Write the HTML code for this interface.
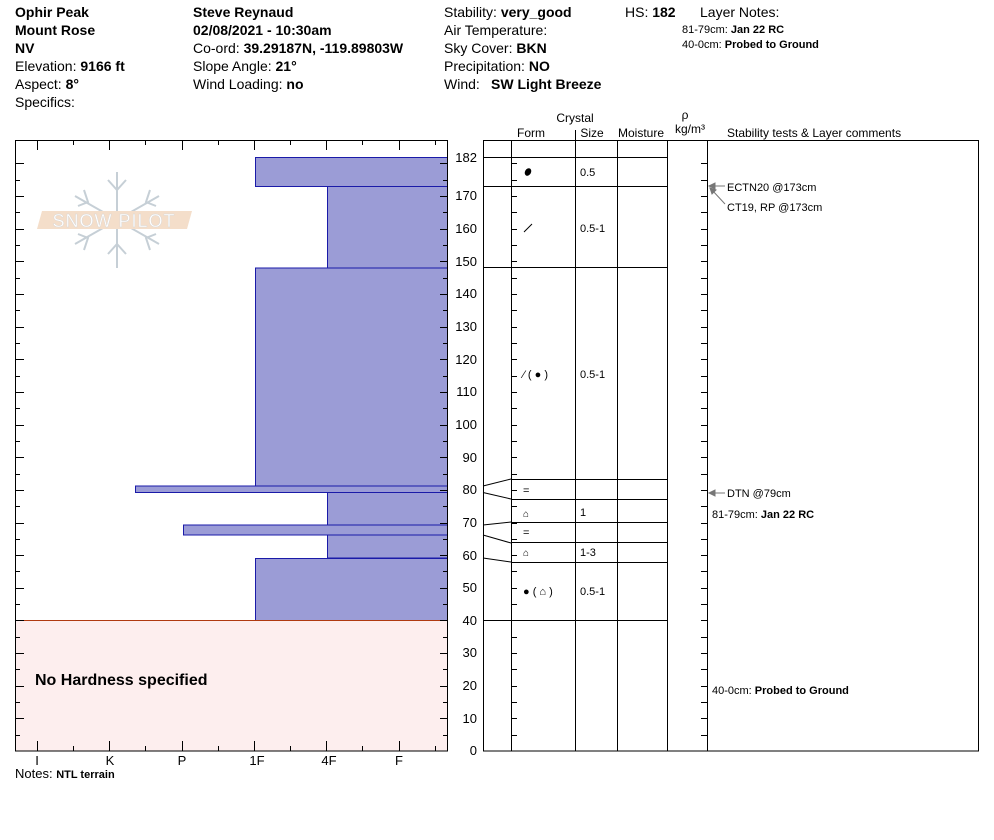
<!DOCTYPE html>
<html><head><meta charset="utf-8"><style>
body{margin:0;background:#fff;}
svg{display:block;font-family:"Liberation Sans",Arial,sans-serif;}
.b{font-weight:bold}
</style></head><body>
<svg id="s" width="994" height="840" viewBox="0 0 994 840" xmlns="http://www.w3.org/2000/svg">
<g font-size="14" fill="#000">
<text x="15" y="17" class="b">Ophir Peak</text>
<text x="15" y="35" class="b">Mount Rose</text>
<text x="15" y="53" class="b">NV</text>
<text x="15" y="71">Elevation: <tspan class="b">9166 ft</tspan></text>
<text x="15" y="89">Aspect: <tspan class="b">8°</tspan></text>
<text x="15" y="107">Specifics:</text>
<text x="193" y="17" class="b">Steve Reynaud</text>
<text x="193" y="35" class="b">02/08/2021 - 10:30am</text>
<text x="193" y="53">Co-ord: <tspan class="b">39.29187N, -119.89803W</tspan></text>
<text x="193" y="71">Slope Angle: <tspan class="b">21°</tspan></text>
<text x="193" y="89">Wind Loading: <tspan class="b">no</tspan></text>
<text x="444" y="17">Stability: <tspan class="b">very_good</tspan></text>
<text x="444" y="35">Air Temperature:</text>
<text x="444" y="53">Sky Cover: <tspan class="b">BKN</tspan></text>
<text x="444" y="71">Precipitation: <tspan class="b">NO</tspan></text>
<text x="444" y="89">Wind:<tspan x="491" class="b">SW  Light Breeze</tspan></text>
<text x="625" y="17">HS: <tspan class="b">182</tspan></text>
<text x="700" y="17">Layer Notes:</text>
</g>
<g font-size="11">
<text x="682" y="33">81-79cm:  <tspan class="b">Jan 22 RC</tspan></text>
<text x="682" y="48">40-0cm:  <tspan class="b">Probed to Ground</tspan></text>
</g>
<g opacity="0.8">
<g stroke="#b8c4cc" stroke-width="2" fill="none">
<line x1="117" y1="172" x2="117" y2="268"/>
<line x1="75" y1="196" x2="159" y2="244"/>
<line x1="75" y1="244" x2="159" y2="196"/>
<polyline points="108,180 117,190 126,180"/><polyline points="108,254 117,244 126,254"/>
<polyline points="84,190 88,202 78,206"/><polyline points="150,190 146,202 156,206"/>
<polyline points="84,250 88,238 78,234"/><polyline points="150,250 146,238 156,234"/>
</g>
<polygon points="42,211 192,211 187,229 37,229" fill="#f2d6bd"/>
<text x="114" y="227" font-size="18" fill="#fff" stroke="#ccc" stroke-width="0.4" text-anchor="middle" letter-spacing="1">SNOW PILOT</text>
</g>
<g fill="#9b9cd6" stroke="#1a1aa8" stroke-width="1">
<rect x="255.5" y="157.5" width="192" height="29"/>
<rect x="327.5" y="186.5" width="120" height="81.5"/>
<rect x="255.5" y="268" width="192" height="218"/>
<rect x="135.5" y="486" width="312" height="6.5"/>
<rect x="327.5" y="492.5" width="120" height="32.5"/>
<rect x="183.5" y="525" width="264" height="10"/>
<rect x="327.5" y="535" width="120" height="23"/>
<rect x="255.5" y="558.5" width="192" height="62"/>
</g>
<rect x="15.5" y="620.5" width="432" height="130.5" fill="#fdeeee"/>
<line x1="15" y1="620.5" x2="447" y2="620.5" stroke="#b03a10"/>
<line x1="15.5" y1="620" x2="15.5" y2="751" stroke="#b03a10"/>
<text x="35" y="685" font-size="16" class="b">No Hardness specified</text>
<rect x="15.5" y="140.5" width="432" height="610.5" fill="none" stroke="#000"/>
<g id="lt" stroke="#000"></g>
<g font-size="13" text-anchor="middle">
<text x="37" y="765">I</text><text x="110" y="765">K</text><text x="182" y="765">P</text><text x="257" y="765">1F</text><text x="329" y="765">4F</text><text x="399" y="765">F</text>
</g>
<text x="15" y="778" font-size="13">Notes: <tspan font-size="11" class="b">NTL terrain</tspan></text>
<g font-size="13" text-anchor="end">
<text x="477" y="162">182</text><text x="477" y="200">170</text><text x="477" y="233">160</text><text x="477" y="266">150</text><text x="477" y="298">140</text><text x="477" y="331">130</text><text x="477" y="364">120</text><text x="477" y="396">110</text><text x="477" y="429">100</text><text x="477" y="462">90</text><text x="477" y="494">80</text><text x="477" y="527">70</text><text x="477" y="560">60</text><text x="477" y="592">50</text><text x="477" y="625">40</text><text x="477" y="657">30</text><text x="477" y="690">20</text><text x="477" y="723">10</text><text x="477" y="755">0</text>
</g>
<g font-size="12" text-anchor="middle">
<text x="575" y="122">Crystal</text>
<text x="531" y="137">Form</text><text x="592" y="137">Size</text><text x="641" y="137">Moisture</text>
<text x="685" y="119">ρ</text><text x="690" y="133">kg/m³</text>
</g>
<text x="727" y="137" font-size="12">Stability tests &amp; Layer comments</text>
<g stroke="#000" fill="none">
<line x1="575.5" y1="130" x2="575.5" y2="140"/>
<rect x="483.5" y="140.5" width="495" height="610.5"/>
<line x1="511.5" y1="140" x2="511.5" y2="751"/>
<line x1="575.5" y1="140" x2="575.5" y2="751"/>
<line x1="617.5" y1="140" x2="617.5" y2="751"/>
<line x1="667.5" y1="140" x2="667.5" y2="751"/>
<line x1="707.5" y1="140" x2="707.5" y2="751"/>
<line x1="483" y1="157.5" x2="667" y2="157.5"/>
<line x1="483" y1="186.5" x2="667" y2="186.5"/>
<line x1="483" y1="267.5" x2="667" y2="267.5"/>
<line x1="511" y1="479.5" x2="667" y2="479.5"/>
<line x1="511" y1="499.5" x2="667" y2="499.5"/>
<line x1="511" y1="522.5" x2="667" y2="522.5"/>
<line x1="511" y1="542.5" x2="667" y2="542.5"/>
<line x1="511" y1="562.5" x2="667" y2="562.5"/>
<line x1="483" y1="620.5" x2="667" y2="620.5"/>
<polyline points="483,486 511,479"/><polyline points="483,492.5 511,499"/>
<polyline points="483,525 511,522"/><polyline points="483,535 511,543"/>
<polyline points="483,558 511,562"/>
</g>
<g id="rt" stroke="#000"></g>
<g font-size="11">
<text x="580" y="176">0.5</text><text x="580" y="232">0.5-1</text><text x="580" y="378">0.5-1</text>
<text x="580" y="516">1</text><text x="580" y="556">1-3</text><text x="580" y="595">0.5-1</text>
<text x="523" y="494">=</text><text x="523" y="536">=</text>
<text x="523" y="517" font-size="10">⌂</text><text x="523" y="556" font-size="10">⌂</text>
<text x="523" y="595">●  ( ⌂ )</text>
<text x="523" y="378">⁄  ( ● )</text>
</g>
<line x1="524" y1="232" x2="532" y2="224" stroke="#000"/>
<ellipse cx="528" cy="172" rx="3" ry="4" fill="#000" transform="rotate(30 528 172)"/>
<g font-size="11">
<text x="727" y="191">ECTN20 @173cm</text>
<text x="727" y="211">CT19, RP @173cm</text>
<text x="727" y="497">DTN @79cm</text>
<text x="712" y="518">81-79cm:  <tspan class="b">Jan 22 RC</tspan></text>
<text x="712" y="694">40-0cm:  <tspan class="b">Probed to Ground</tspan></text>
</g>
<g stroke="#777" fill="#777">
<line x1="712" y1="186" x2="725" y2="186"/><polygon points="709,186 715,183 715,189"/>
<line x1="712" y1="190" x2="725" y2="204"/><polygon points="710,188 716,190 712,194"/>
<line x1="712" y1="493" x2="725" y2="493"/><polygon points="709,493 715,490 715,496"/>
</g>
</svg>
<script>
var ns="http://www.w3.org/2000/svg";
function L(g,x1,y1,x2,y2){var l=document.createElementNS(ns,"line");l.setAttribute("x1",x1);l.setAttribute("y1",y1);l.setAttribute("x2",x2);l.setAttribute("y2",y2);document.getElementById(g).appendChild(l);}
for(var d=5;d<182;d+=5){var y=Math.round(751-d*3.264)+0.5;var maj=d%10==0;
L("lt",15,y,maj?24:20,y);L("lt",447,y,maj?440:443,y);
L("rt",511,y,517,y);L("rt",707,y,701,y);}
for(var i=0;i<12;i++){var x=Math.round(37+i*36.15)+0.5;if(x>446)break;var maj=i%2==0;
L("lt",x,140,x,maj?150:145);L("lt",x,751,x,maj?741:746);}
</script>
</body></html>
